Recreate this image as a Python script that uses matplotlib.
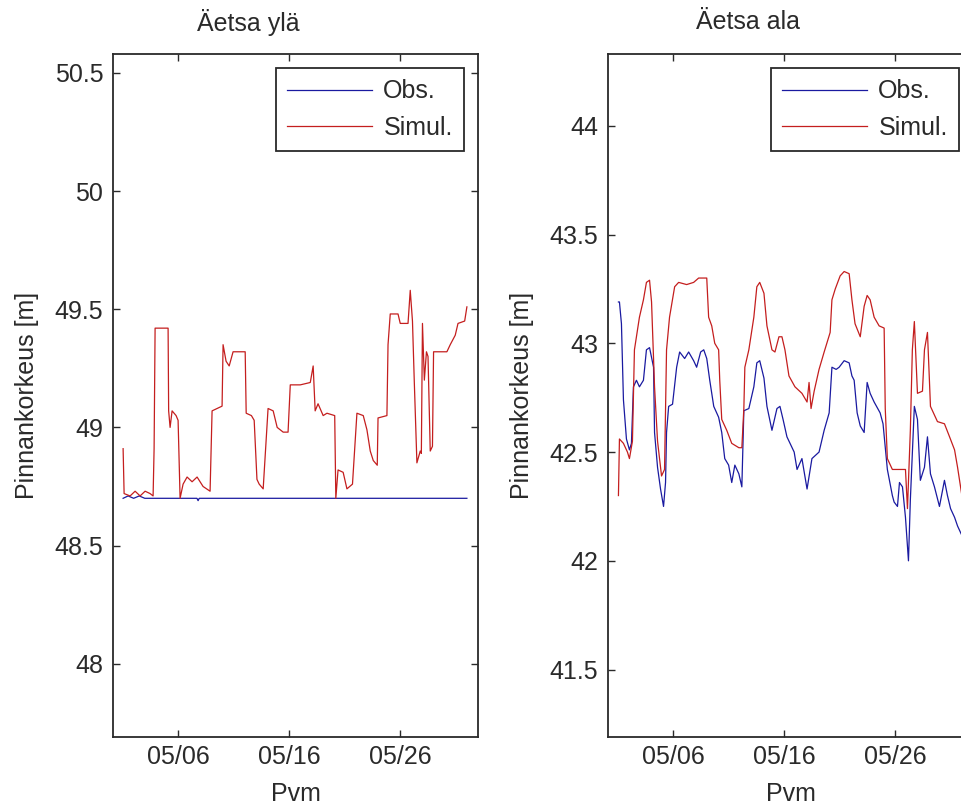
import matplotlib
matplotlib.use('Agg')
import matplotlib.pyplot as plt
import matplotlib.dates as mdates
import numpy as np
from datetime import datetime

# --- data: day of May (float), water level [m] ---
yla_obs_day = [1.05, 1.5, 2.0, 2.5, 3.0, 3.8, 7.7, 7.8, 7.9, 32.0]
yla_obs_val = [48.70, 48.71, 48.70, 48.71, 48.70, 48.70, 48.70, 48.69, 48.70, 48.70]

yla_sim_day = [1.05, 1.14, 1.68, 2.13, 2.58, 3.03, 3.48, 3.75, 3.84, 3.93, 5.10, 5.15,
               5.28, 5.46, 5.82, 6.0, 6.18, 6.45, 6.81, 7.26, 7.71, 8.25, 8.88, 9.06,
               9.96, 10.05, 10.32, 10.6, 10.95, 12.04, 12.13, 12.6, 12.85, 13.1, 13.3,
               13.66, 14.1, 14.56, 14.92, 15.46, 15.9, 16.1, 17.0, 17.9, 18.16, 18.34,
               18.6, 19.06, 19.4, 20.1, 20.2, 20.4, 20.86, 21.2, 21.7, 22.1, 22.67,
               23.0, 23.3, 23.57, 23.93, 24.0, 24.8, 24.9, 25.1, 25.8, 26.0, 26.7,
               26.9, 27.1, 27.26, 27.5, 27.8, 27.9, 28.0, 28.17, 28.36, 28.5, 28.7,
               28.9, 29.0, 30.2, 30.5, 30.95, 31.2, 31.8, 32.0]
yla_sim_val = [48.91, 48.72, 48.71, 48.73, 48.71, 48.73, 48.72, 48.71, 48.91, 49.42, 49.42, 49.07,
               49.00, 49.07, 49.05, 49.03, 48.70, 48.76, 48.79, 48.77, 48.79, 48.75, 48.73, 49.07,
               49.09, 49.35, 49.28, 49.26, 49.32, 49.32, 49.06, 49.05, 49.03, 48.78, 48.76,
               48.74, 49.08, 49.07, 49.00, 48.98, 48.98, 49.18, 49.18, 49.19, 49.26, 49.07,
               49.10, 49.05, 49.06, 49.05, 48.70, 48.82, 48.81, 48.74, 48.76, 49.06, 49.05,
               48.99, 48.90, 48.86, 48.84, 49.04, 49.05, 49.35, 49.48, 49.48, 49.44, 49.44,
               49.58, 49.45, 49.20, 48.85, 48.90, 48.89, 49.44, 49.20, 49.32, 49.30, 48.90,
               48.92, 49.32, 49.32, 49.35, 49.39, 49.44, 49.45, 49.51]

ala_obs_day = [1.08, 1.17, 1.35, 1.53, 1.80, 2.07, 2.25, 2.43, 2.70, 2.97, 3.33, 3.6, 3.88,
               4.24, 4.33, 4.6, 4.87, 5.14, 5.32, 5.41, 5.6, 5.95, 6.32, 6.59, 7.04, 7.4,
               7.85, 8.12, 8.48, 8.76, 9.03, 9.3, 9.66, 10.1, 10.38, 10.65, 11.0, 11.28,
               11.56, 11.92, 12.19, 12.37, 12.82, 13.27, 13.54, 13.8, 14.18, 14.45, 14.9,
               15.35, 15.62, 15.9, 16.25, 16.9, 17.16, 17.6, 18.06, 18.5, 19.14, 19.6,
               20.05, 20.3, 20.68, 20.95, 21.4, 21.85, 22.1, 22.3, 22.57, 22.85, 23.2,
               23.47, 23.74, 24.1, 24.64, 24.9, 25.29, 25.74, 25.9, 26.2, 26.38, 26.65,
               26.92, 27.19, 27.36, 27.72, 28.0, 28.26, 28.63, 28.9, 29.17, 29.53, 29.98,
               30.43, 30.7, 30.98, 31.34, 31.61, 32.06]
ala_obs_val = [43.19, 43.19, 43.09, 42.74, 42.56, 42.51, 42.54, 42.80, 42.83, 42.80, 42.83, 42.97, 42.98,
               42.89, 42.59, 42.43, 42.33, 42.25, 42.36, 42.59, 42.71, 42.72, 42.89, 42.96, 42.93, 42.96,
               42.92, 42.89, 42.96, 42.97, 42.93, 42.83, 42.71, 42.66, 42.59, 42.47, 42.44, 42.36,
               42.44, 42.40, 42.34, 42.69, 42.70, 42.80, 42.91, 42.92, 42.84, 42.71, 42.60,
               42.70, 42.71, 42.65, 42.57, 42.50, 42.42, 42.47, 42.33, 42.47, 42.50, 42.60,
               42.68, 42.89, 42.88, 42.89, 42.92, 42.91, 42.85, 42.83, 42.68, 42.62, 42.59,
               42.82, 42.77, 42.73, 42.68, 42.63, 42.42, 42.30, 42.27, 42.25, 42.36, 42.34,
               42.20, 42.00, 42.28, 42.71, 42.65, 42.37, 42.43, 42.57, 42.40, 42.34, 42.25,
               42.37, 42.30, 42.24, 42.20, 42.16, 42.11]

ala_sim_day = [1.08, 1.17, 1.53, 1.89, 2.07, 2.34, 2.52, 2.97, 3.33, 3.6, 3.88, 4.06, 4.33,
               4.6, 4.96, 5.23, 5.41, 5.68, 6.14, 6.5, 7.22, 7.85, 8.3, 9.03, 9.2, 9.48,
               9.75, 10.1, 10.2, 10.38, 10.83, 11.28, 11.92, 12.19, 12.37, 12.46, 12.82,
               13.27, 13.54, 13.8, 14.18, 14.45, 14.9, 15.17, 15.53, 15.8, 16.07, 16.43,
               16.97, 17.6, 18.06, 18.24, 18.42, 18.7, 19.14, 19.6, 20.14, 20.3, 20.6,
               21.04, 21.4, 21.85, 22.1, 22.38, 22.85, 23.2, 23.47, 23.74, 24.1, 24.55,
               25.0, 25.1, 25.29, 25.74, 26.38, 26.92, 27.1, 27.36, 27.54, 27.72, 28.0,
               28.45, 28.63, 28.9, 29.1, 29.17, 29.35, 29.8, 30.43, 30.89, 31.34, 31.61, 32.06]
ala_sim_val = [42.30, 42.56, 42.54, 42.50, 42.47, 42.55, 42.97, 43.12, 43.20, 43.28, 43.29, 43.19, 42.80,
               42.55, 42.39, 42.42, 42.97, 43.12, 43.26, 43.28, 43.27, 43.28, 43.30, 43.30, 43.12, 43.08,
               43.00, 42.97, 42.83, 42.65, 42.60, 42.54, 42.52, 42.52, 42.70, 42.89, 42.97,
               43.12, 43.26, 43.28, 43.23, 43.08, 42.97, 42.96, 43.03, 43.03, 42.97, 42.85,
               42.80, 42.77, 42.73, 42.82, 42.70, 42.78, 42.88, 42.96, 43.05, 43.20, 43.25,
               43.31, 43.33, 43.32, 43.20, 43.09, 43.03, 43.17, 43.22, 43.20, 43.12, 43.08,
               43.07, 42.70, 42.47, 42.42, 42.42, 42.42, 42.24, 42.60, 42.97, 43.10, 42.77,
               42.78, 42.97, 43.05, 42.80, 42.71, 42.69, 42.64, 42.63, 42.57, 42.51, 42.43, 42.28]

yla_yticks = [48, 48.5, 49, 49.5, 50, 50.5]
ala_yticks = [41.5, 42, 42.5, 43, 43.5, 44]
tick_days = [6, 16, 26]

base = mdates.date2num(datetime(2010, 4, 30))

FS = 18
plt.rcParams.update({
    'font.family': ['Liberation Sans', 'DejaVu Sans'],
    'font.size': FS,
})

fig = plt.figure(figsize=(9.62, 8.07), dpi=100)
W, H = 962, 807
ax_w, ax_h = 365 / W, 683 / H
ax1 = fig.add_axes([113 / W, 70 / H, ax_w, ax_h])
ax2 = fig.add_axes([608 / W, 70 / H, ax_w, ax_h])

panels = [
    (ax1, yla_obs_day, yla_obs_val, yla_sim_day, yla_sim_val, yla_yticks, (47.69, 50.58), 'Äetsa ylä', 248),
    (ax2, ala_obs_day, ala_obs_val, ala_sim_day, ala_sim_val, ala_yticks, (41.19, 44.33), 'Äetsa ala', 748),
]

txt = '#2a2a2a'
for ax, od, ov, sd, sv, yt, ylim, title, tx in panels:
    ax.plot(base + np.array(od), ov, color='#1a1aa0', lw=0.9, label='Obs.')
    ax.plot(base + np.array(sd), sv, color='#c41e1e', lw=0.9, label='Simul.')
    ax.set_xlim(base + 0.14, base + 33.0)
    ax.set_ylim(*ylim)
    ax.set_yticks(yt)
    ax.set_yticklabels([f'{v:g}' for v in yt])
    ax.set_xticks([base + d for d in tick_days])
    ax.xaxis.set_major_formatter(mdates.DateFormatter('%m/%d'))
    ax.tick_params(direction='in', length=5, width=1, top=True, right=True,
                   colors=txt, labelsize=FS)
    ax.tick_params(axis='x', pad=6)
    ax.tick_params(axis='y', pad=7)
    for sp in ax.spines.values():
        sp.set_linewidth(1.3)
        sp.set_color(txt)
    ax.set_xlabel('Pvm', fontsize=FS, labelpad=9, color=txt)
    ax.set_ylabel('Pinnankorkeus [m]', fontsize=FS, labelpad=11, color=txt)
    fig.text(tx / W, 1 - 22 / H, title, ha='center', va='center', fontsize=FS, color=txt)
    leg = ax.legend(loc='upper right', bbox_to_anchor=(0.9616, 0.9795), borderaxespad=0,
                    fancybox=False, framealpha=1, edgecolor=txt, handlelength=3.4,
                    handletextpad=0.45, labelspacing=0.5, borderpad=0.45, fontsize=FS)
    leg.get_frame().set_linewidth(1.3)
    for t in leg.get_texts():
        t.set_color(txt)

fig.savefig('out.png', dpi=100)
